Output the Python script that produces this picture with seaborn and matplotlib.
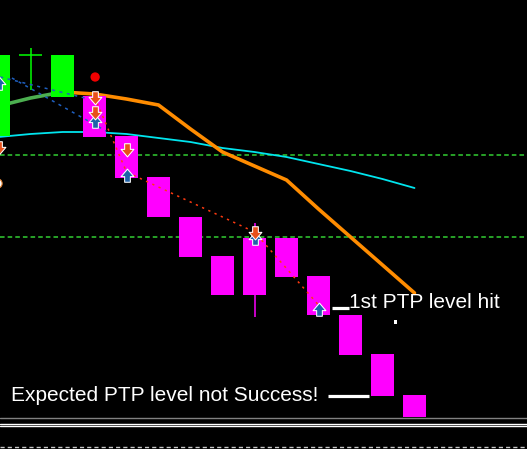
import numpy as np
import pandas as pd
import seaborn as sns
import matplotlib.pyplot as plt
from matplotlib.path import Path

# candles, chart points (bigger = higher price)
bar_idx = list(range(14))
opens = [313, 394, 352, 353, 313, 272, 232, 193, 211, 211, 173, 134, 95, 54]
highs = [394, 401, 394, 353, 313, 272, 232, 193, 226, 211, 173, 134, 95, 54]
lows = [313, 359, 352, 312, 271, 232, 192, 154, 132, 172, 134, 94, 53, 9]
closes = [394, 394, 394, 312, 271, 232, 192, 154, 154, 172, 134, 94, 53, 9]

# moving averages
ma_up_idx = [0, 1, 2]
ma_up = [343, 351, 357]
ma_dn_idx = list(range(2, 14))
ma_dn = [357, 355, 350, 344, 320, 297, 283, 269, 240, 212, 184, 156]
slow_ma = [312, 315, 317, 317, 315, 311, 307, 301, 297, 292, 285, 278, 270, 261]

# levels / trend lines
levels = [294, 212]
trend_a_x, trend_a_y = [0.05, 2.70], [372, 351]
trend_b_x, trend_b_y = [0.42, 3.36], [371, 318]
trend_red_x, trend_red_y = [3, 4, 8, 10], [352, 277, 217, 144]

# signal arrows
dn_x, dn_y = [0, 3, 3, 4, 8], [301, 351, 336, 299, 216]
up_x, up_y = [0, 3, 4, 8, 10], [366, 328, 274, 211, 140]
dot_x, dot_y = [3.02], [372]
circ_x, circ_y = [-0.05], [266]
sq_x, sq_y = [12.42], [127]

# PTP labels
ptp_text = ["1st PTP level hit", "Expected PTP level not Success!"]
ptp_tx, ptp_ty = [10.95, 0.39], [141, 48]
ptp_x0, ptp_x1, ptp_y = [10.42, 10.30], [10.95, 11.58], [141, 53]

sns.set_style("dark", {"axes.facecolor": "black", "figure.facecolor": "black"})
plt.rcParams["font.family"] = ["Liberation Sans", "DejaVu Sans"]

fig = plt.figure(figsize=(5.27, 4.49), dpi=100)
ax = fig.add_axes([0, 32 / 449, 1, 417 / 449])
ax2 = fig.add_axes([0, 0, 1, 32 / 449])
xlim = (1.5 / 32, 528.5 / 32)

for a in (ax, ax2):
    a.set_facecolor("black")
    a.set_xlim(*xlim)
    a.set_xticks([])
    a.set_yticks([])
    for s in a.spines.values():
        s.set_visible(False)
ax.set_ylim(32, 449)
ax2.set_ylim(0, 32)

for lv in levels:
    ax.axhline(lv, color="#32CD32", lw=1.1, ls=(0, (3, 2)), zorder=1)

df_up = pd.DataFrame({"i": ma_up_idx, "v": ma_up})
df_dn = pd.DataFrame({"i": ma_dn_idx, "v": ma_dn})
df_slow = pd.DataFrame({"i": bar_idx, "v": slow_ma})
sns.lineplot(data=df_slow, x="i", y="v", color="#00E5EE", lw=1.3, ax=ax, zorder=2)
sns.lineplot(data=df_up, x="i", y="v", color="#4CAF50", lw=2.6, ax=ax, zorder=2)
sns.lineplot(data=df_dn, x="i", y="v", color="#FF8C00", lw=2.6, ax=ax, zorder=2)

# candles
o, c = np.array(opens), np.array(closes)
cols = np.where(c >= o, "#00FF00", "#FF00FF")
ax.vlines(bar_idx, lows, highs, colors=cols, lw=1.1, zorder=3)
body = np.abs(c - o)
ax.bar(bar_idx, body, bottom=np.minimum(o, c), width=0.72, color=cols,
       edgecolor="none", linewidth=0, zorder=4)
doji = body == 0
ax.hlines(o[doji], np.array(bar_idx)[doji] - 0.36, np.array(bar_idx)[doji] + 0.36,
          colors=cols[doji], lw=1.1, zorder=4)

# trend lines
ax.plot(trend_a_x, trend_a_y, color="#1F5FBF", lw=1.1, ls=(0, (2, 3)), zorder=5)
ax.plot(trend_b_x, trend_b_y, color="#1F5FBF", lw=1.1, ls=(0, (2, 3)), zorder=5)
ax.plot(trend_red_x, trend_red_y, color="#FF3A10", lw=1.1, ls=(0, (1.5, 3)), zorder=5)

# arrow markers
down_arrow = Path([(-0.38, 0.9), (0.38, 0.9), (0.38, 0.15), (0.85, 0.15), (0, -0.85),
                   (-0.85, 0.15), (-0.38, 0.15), (-0.38, 0.9)], closed=True)
up_arrow = Path([(x, -y) for x, y in down_arrow.vertices], closed=True)
ax.scatter(up_x, up_y, marker=up_arrow, s=95, facecolors="#1E62A8",
           edgecolors="white", linewidths=0.75, zorder=6)
ax.scatter(dn_x, dn_y, marker=down_arrow, s=95, facecolors="#E8501A",
           edgecolors="white", linewidths=0.75, zorder=7)
sns.scatterplot(x=dot_x, y=dot_y, marker="o", s=45, color="#F00000",
                edgecolor="none", ax=ax, zorder=7)
ax.scatter(circ_x, circ_y, marker="o", s=45, facecolors="white",
           edgecolors="#E08030", linewidths=0.8, zorder=7)
sns.scatterplot(x=sq_x, y=sq_y, marker="s", s=5, color="white",
                edgecolor="none", ax=ax, zorder=7)

ax.hlines(ptp_y, ptp_x0, ptp_x1, colors="white", lw=2.3, zorder=7)
for t, tx, ty in zip(ptp_text, ptp_tx, ptp_ty):
    ax.text(tx, ty, t, color="white", fontsize=15, va="baseline", ha="left", zorder=8)

# bottom indicator window separator
ax2.axhline(31.5, color="#808080", lw=1)
ax2.axhline(25.5, color="white", lw=1)
ax2.axhline(23, color="white", lw=1)
ax2.axhline(2, color="#C8C8C8", lw=1, ls=(0, (3, 2.2)))

fig.savefig("out.png", dpi=100, facecolor="black")
